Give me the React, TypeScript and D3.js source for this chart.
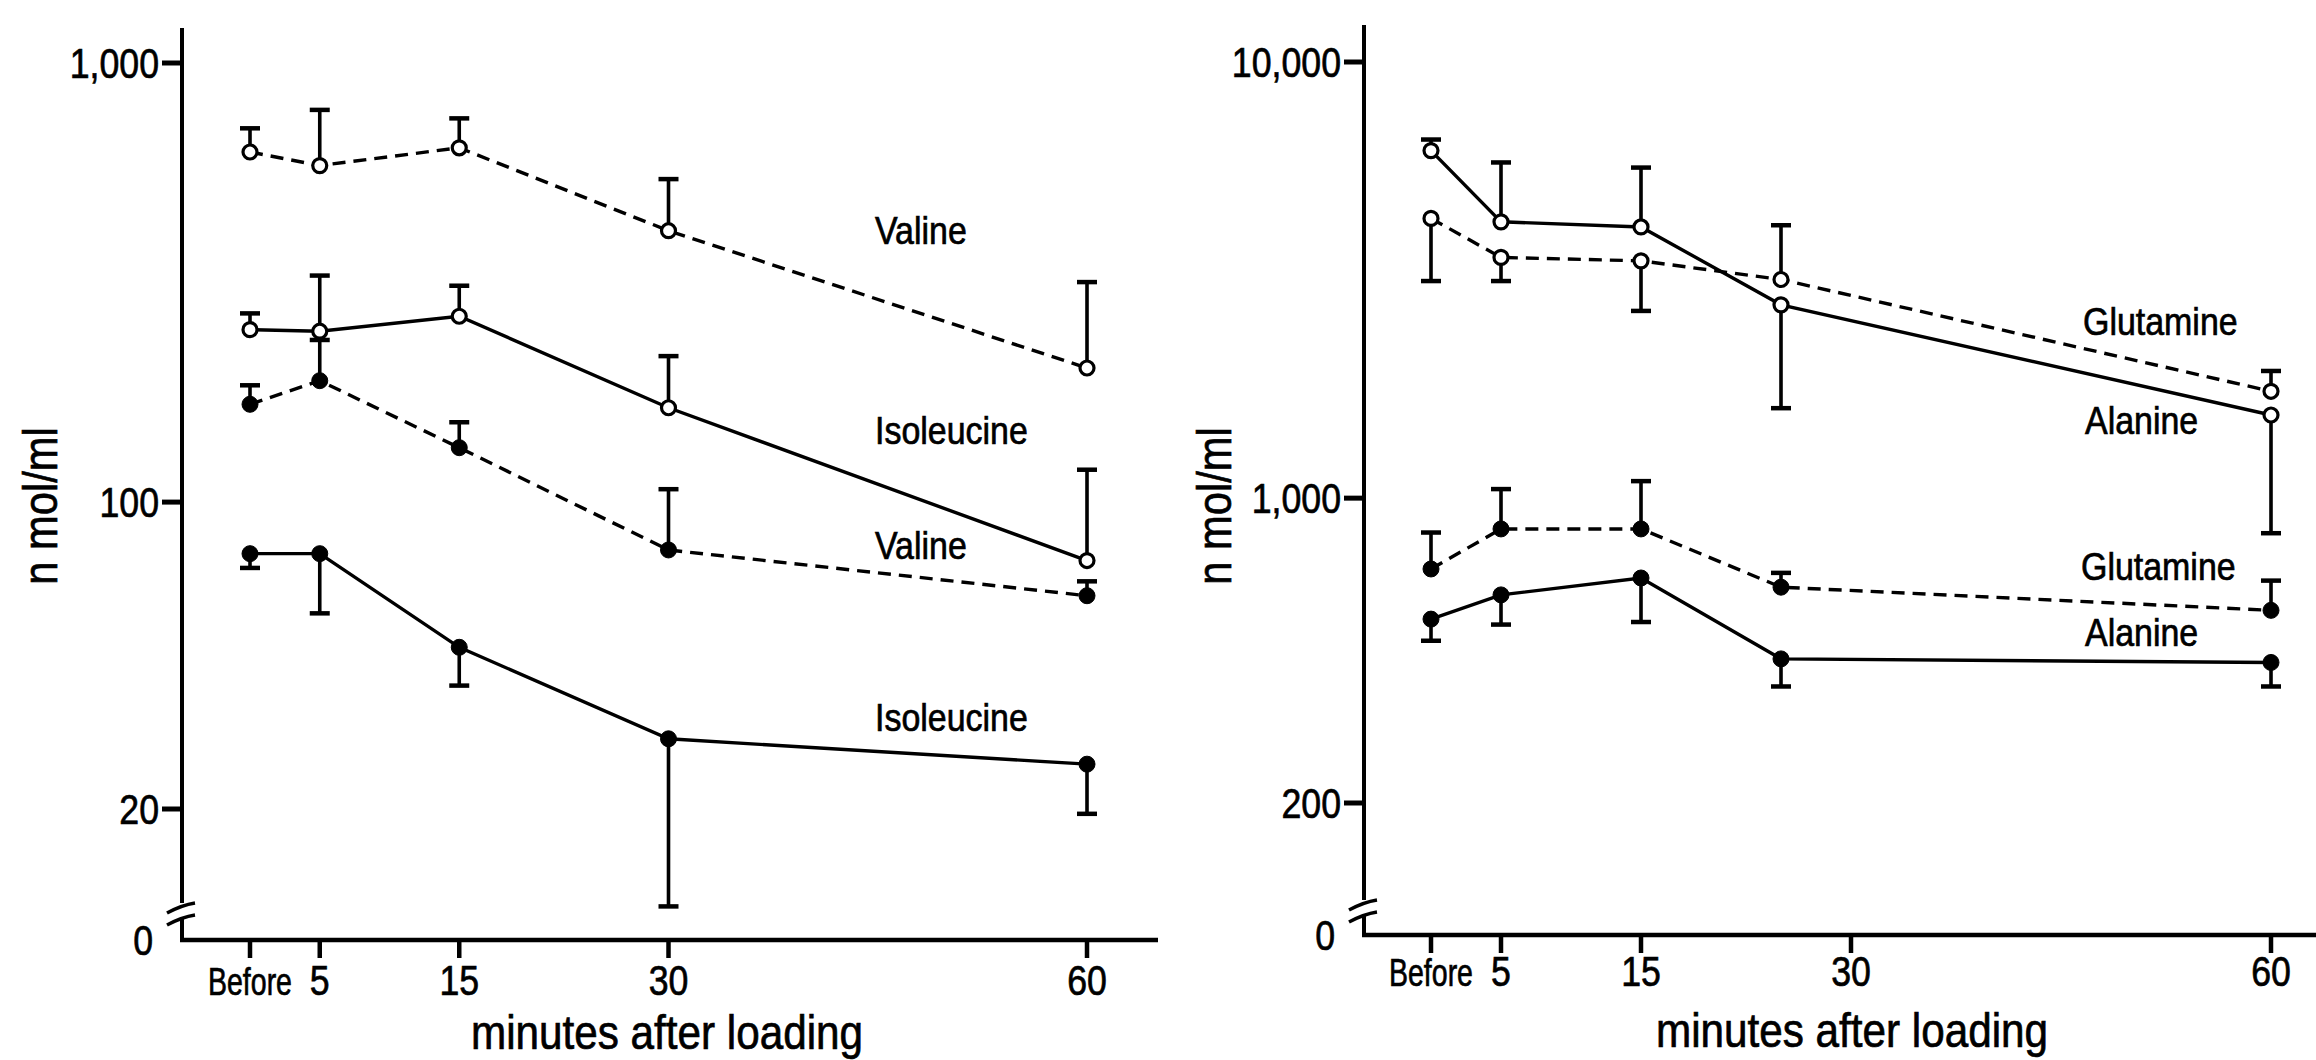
import React from 'react';
import * as d3 from 'd3';

// ---------- data ----------
const xTickValues = [0, 5, 15, 30, 60];
const xTickLabels = ['Before', '5', '15', '30', '60'];
const leftTimes = [0, 5, 15, 30, 60];
const rightTimes = [0, 5, 15, 25, 60];

const leftYTicks = [1000, 100, 20];
const leftYTickLabels = ['1,000', '100', '20'];
const rightYTicks = [10000, 1000, 200];
const rightYTickLabels = ['10,000', '1,000', '200'];

// Left panel (values, error-bar tips)
const valineOpen = [627, 584, 641, 415, 202];
const valineOpenErr = [710, 782, 748, 544, 317];
const ileOpen = [247, 245, 265, 164, 73.6];
const ileOpenErr = [269, 328, 311, 215, 118.5];
const valineFilled = [167, 189, 133, 77.8, 61.2];
const valineFilledErr = [184.5, 234, 152, 107, 66];
const ileFilled = [76.3, 76.3, 46.7, 28.9, 25.3];
const ileFilledErr = [70.8, 55.8, 38.2, 12.0, 19.5];

// Right panel
const alaOpen = [6264, 4301, 4186, 2775, 1551];
const alaOpenErr = [6641, 5884, 5727, 1608, 831];
const gluOpen = [4379, 3564, 3500, 3172, 1758];
const gluOpenErr = [3146, 3146, 2687, 4224, 1957];
const gluFilled = [688, 850, 850, 625, 553];
const gluFilledErr = [834, 1049, 1094, 674, 647];
const alaFilled = [528, 600, 656, 428, 420];
const alaFilledErr = [471, 513, 520, 370, 370];

const leftLabels = ['Valine', 'Isoleucine', 'Valine', 'Isoleucine'];
const rightLabels = ['Glutamine', 'Alanine', 'Glutamine', 'Alanine'];

const FONT = "'Liberation Sans', Arial, sans-serif";

type Series = { values: number[]; err: number[]; filled: boolean; dashed: boolean };

function T({ x, y, sx = 0.87, size, anchor = 'start', children, rotate = 0, dy = 0 }: any) {
  return (
    <text
      transform={`translate(${x},${y}) rotate(${rotate}) scale(${sx},1)`}
      textAnchor={anchor}
      fontSize={size}
      fontFamily={FONT}
      fill="#000"
      stroke="#000"
      strokeWidth={0.7}
      dy={dy}
    >
      {children}
    </text>
  );
}

function Panel(props: any) {
  const {
    axisX, axisTop, breakY, xAxisY, xAxisEnd, xRange, yDomain, yRange,
    times, series, yTicks, yTickLabels, labels, labelPos, titleX, titleY,
    xLabelY, yTitleX,
  } = props;
  const x = d3.scaleLinear().domain([0, 60]).range(xRange);
  const y = d3.scaleLog().domain(yDomain).range(yRange);
  const line = d3
    .line<number>()
    .x((_, i) => x(times[i]))
    .y((d) => y(d));

  return (
    <g>
      {/* y axis with break */}
      <line x1={axisX} x2={axisX} y1={axisTop} y2={breakY} stroke="#000" strokeWidth={4} />
      <line x1={axisX} x2={axisX} y1={breakY + 16} y2={xAxisY + 2} stroke="#000" strokeWidth={4} />
      <path
        d={`M${axisX - 15},${breakY + 10} Q${axisX},${breakY + 2} ${axisX + 13},${breakY}`}
        fill="none" stroke="#000" strokeWidth={3.5}
      />
      <path
        d={`M${axisX - 15},${breakY + 22} Q${axisX},${breakY + 14} ${axisX + 13},${breakY + 12}`}
        fill="none" stroke="#000" strokeWidth={3.5}
      />
      {/* x axis */}
      <line x1={axisX - 2} x2={xAxisEnd} y1={xAxisY} y2={xAxisY} stroke="#000" strokeWidth={4.5} />
      {xTickValues.map((v, i) => (
        <g key={'xt' + i}>
          <line x1={x(v)} x2={x(v)} y1={xAxisY} y2={xAxisY + 18} stroke="#000" strokeWidth={4.5} />
          <T x={x(v)} y={xLabelY} size={i === 0 ? 38 : 42} sx={i === 0 ? 0.75 : 0.85} anchor="middle">
            {xTickLabels[i]}
          </T>
        </g>
      ))}
      {/* y ticks */}
      {yTicks.map((v: number, i: number) => (
        <g key={'yt' + i}>
          <line x1={axisX - 20} x2={axisX} y1={y(v)} y2={y(v)} stroke="#000" strokeWidth={5} />
          <T x={axisX - 23} y={y(v)} size={42} sx={0.85} anchor="end" dy="0.36em">
            {yTickLabels[i]}
          </T>
        </g>
      ))}
      <T x={axisX - 29} y={xAxisY} size={42} sx={0.85} anchor="end" dy="0.36em">0</T>

      {/* lines */}
      {series.map((s: Series, k: number) => (
        <path
          key={'l' + k}
          d={line(s.values) || ''}
          fill="none"
          stroke="#000"
          strokeWidth={3.4}
          strokeDasharray={s.dashed ? '13 8' : undefined}
        />
      ))}
      {/* error bars */}
      {series.map((s: Series, k: number) =>
        s.values.map((v, i) => (
          <g key={'e' + k + '-' + i}>
            <line x1={x(times[i])} x2={x(times[i])} y1={y(v)} y2={y(s.err[i])} stroke="#000" strokeWidth={3.6} />
            <line x1={x(times[i]) - 10} x2={x(times[i]) + 10} y1={y(s.err[i])} y2={y(s.err[i])} stroke="#000" strokeWidth={4.5} />
          </g>
        ))
      )}
      {/* markers */}
      {series.map((s: Series, k: number) =>
        s.values.map((v, i) => (
          <circle
            key={'m' + k + '-' + i}
            cx={x(times[i])}
            cy={y(v)}
            r={s.filled ? 8 : 7}
            fill={s.filled ? '#000' : '#fff'}
            stroke="#000"
            strokeWidth={s.filled ? 1 : 3.2}
          />
        ))
      )}
      {/* series labels */}
      {labels.map((t: string, i: number) => (
        <T key={'lb' + i} x={labelPos[i][0]} y={labelPos[i][1]} size={39}>{t}</T>
      ))}
      {/* axis titles */}
      <T x={titleX} y={titleY} size={48} sx={0.88} anchor="middle">minutes after loading</T>
      <T x={yTitleX} y={506} size={48} sx={0.87} anchor="middle" rotate={-90}>n mol/ml</T>
    </g>
  );
}

export default function App() {
  const leftSeries: Series[] = [
    { values: valineOpen, err: valineOpenErr, filled: false, dashed: true },
    { values: ileOpen, err: ileOpenErr, filled: false, dashed: false },
    { values: valineFilled, err: valineFilledErr, filled: true, dashed: true },
    { values: ileFilled, err: ileFilledErr, filled: true, dashed: false },
  ];
  const rightSeries: Series[] = [
    { values: alaOpen, err: alaOpenErr, filled: false, dashed: false },
    { values: gluOpen, err: gluOpenErr, filled: false, dashed: true },
    { values: gluFilled, err: gluFilledErr, filled: true, dashed: true },
    { values: alaFilled, err: alaFilledErr, filled: true, dashed: false },
  ];
  return (
    <svg
      width={2316}
      height={1060}
      style={{ position: 'absolute', left: 0, top: 0, background: '#fff' }}
    >
      <rect width={2316} height={1060} fill="#fff" />
      <Panel
        axisX={182}
        axisTop={28}
        breakY={903}
        xAxisY={940}
        xAxisEnd={1158}
        xRange={[250, 1087]}
        yDomain={[20, 1000]}
        yRange={[809, 63]}
        times={leftTimes}
        series={leftSeries}
        yTicks={leftYTicks}
        yTickLabels={leftYTickLabels}
        labels={leftLabels}
        labelPos={[[875, 244], [875, 444], [875, 559], [875, 731]]}
        titleX={667}
        titleY={1049}
        xLabelY={995}
        yTitleX={57}
      />
      <Panel
        axisX={1364}
        axisTop={25}
        breakY={900}
        xAxisY={935}
        xAxisEnd={2316}
        xRange={[1431, 2271]}
        yDomain={[200, 10000]}
        yRange={[803, 62]}
        times={rightTimes}
        series={rightSeries}
        yTicks={rightYTicks}
        yTickLabels={rightYTickLabels}
        labels={rightLabels}
        labelPos={[[2083, 335], [2085, 434], [2081, 580], [2085, 646]]}
        titleX={1852}
        titleY={1047}
        xLabelY={986}
        yTitleX={1231}
      />
    </svg>
  );
}
